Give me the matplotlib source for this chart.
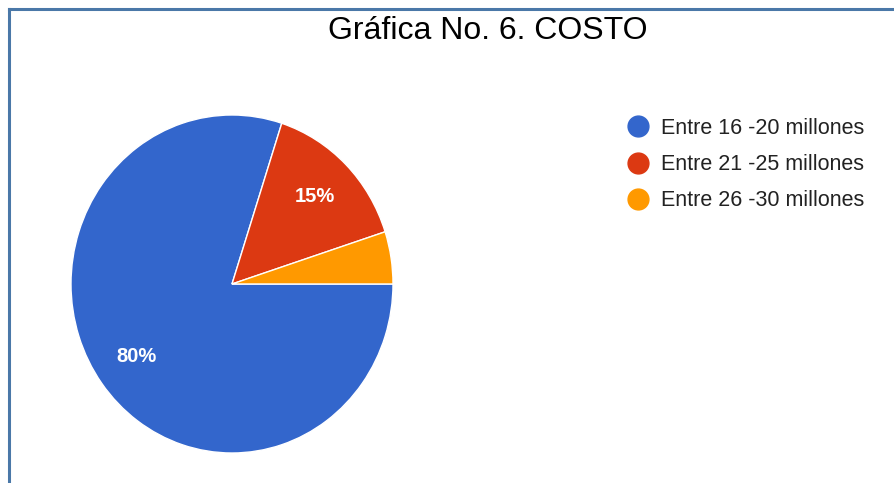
import matplotlib.pyplot as plt
from matplotlib.lines import Line2D

# Gráfica No. 6 - costo
labels = ["Entre 16 -20 millones", "Entre 21 -25 millones", "Entre 26 -30 millones"]
values = [80, 15, 5]
colors = ["#3366cc", "#dc3912", "#ff9900"]
title = "Gráfica No. 6. COSTO"

plt.rcParams['font.family'] = ['Liberation Sans', 'DejaVu Sans']

W, H = 895, 483
fig = plt.figure(figsize=(W / 100, H / 100), dpi=100)

# pie centre ~ (232, 284) px, radius ~161 x 169 px
cx, cy, rx, ry = 232, 284, 161, 169
ax = fig.add_axes([(cx - rx) / W, (H - cy - ry) / H, 2 * rx / W, 2 * ry / H])


def pct(p):
    return f"{p:.0f}%" if p >= 10 else ""


wedges, texts, autotexts = ax.pie(values, colors=colors, startangle=0, counterclock=False,
                                  autopct=pct, pctdistance=0.73,
                                  wedgeprops=dict(edgecolor="white", linewidth=1))
for t in autotexts:
    t.set_color("white")
    t.set_fontsize(14.5)
    t.set_fontweight("bold")
ax.set_aspect("auto")
ax.set_xlim(-1, 1)
ax.set_ylim(-1, 1)

fig.text(488 / W, 1 - 31 / H, title, ha="center", va="center", fontsize=23, color="black")

handles = [Line2D([], [], marker="o", linestyle="", markersize=15, color=c) for c in colors]
fig.legend(handles, labels, loc="upper left", bbox_to_anchor=(607.5 / W, 1 - 98.5 / H),
           frameon=False, fontsize=15.5, labelspacing=0.71, handletextpad=0.57,
           handlelength=1.0, borderpad=0.4, labelcolor="#222222")

# blue frame on top and left
border = "#4a78a8"
fig.add_artist(Line2D([9 / W, 1], [1 - 9 / H, 1 - 9 / H], color=border, linewidth=2.2))
fig.add_artist(Line2D([9 / W, 9 / W], [0, 1 - 9 / H], color=border, linewidth=2.2))

fig.savefig("out.png", dpi=100)
